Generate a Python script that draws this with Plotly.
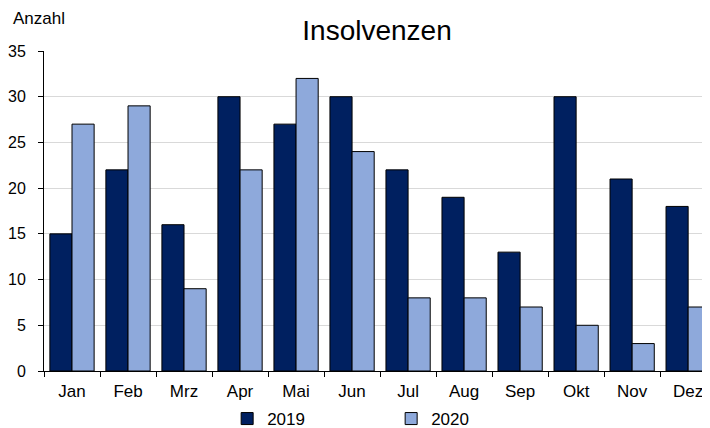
import plotly.graph_objects as go

months = ["Jan", "Feb", "Mrz", "Apr", "Mai", "Jun", "Jul", "Aug", "Sep", "Okt", "Nov", "Dez"]
v2019 = [15, 22, 16, 30, 27, 30, 22, 19, 13, 30, 21, 18]
v2020 = [27, 29, 9, 22, 32, 24, 8, 8, 7, 5, 3, 7]

font = "Liberation Sans, Arial, sans-serif"

fig = go.Figure()
fig.add_trace(go.Bar(x=months, y=v2019, name="2019",
                     marker=dict(color="#002060", line=dict(color="#000000", width=1))))
fig.add_trace(go.Bar(x=months, y=v2020, name="2020",
                     marker=dict(color="#8EA9DB", line=dict(color="#000000", width=1))))

H = 440
fig.update_layout(
    width=702, height=H,
    margin=dict(l=36, r=0, t=43, b=77),
    paper_bgcolor="white", plot_bgcolor="white",
    barmode="group", bargap=0.21, bargroupgap=0,
    font=dict(family=font, size=17, color="#000000"),
    title=dict(text="Insolvenzen", x=0.5, xref="paper", xanchor="center",
               y=1 - 22 / H, yanchor="middle",
               font=dict(family=font, size=28, color="#000000")),
    showlegend=True,
    legend=dict(orientation="h", x=0.275, xanchor="left", y=-0.15, yanchor="middle",
                entrywidth=119, entrywidthmode="pixels", font=dict(size=17),
                itemwidth=30, tracegroupgap=0),
    xaxis=dict(type="category", range=[-0.5, 11.39], showline=True, linecolor="#000000", linewidth=1,
               ticks="outside", tickson="boundaries", ticklen=5, tickcolor="#000000",
               showgrid=False, tickfont=dict(size=17), ticklabelstandoff=5, automargin=False),
    yaxis=dict(range=[0, 35], dtick=5, showline=True, linecolor="#000000", linewidth=1,
               ticks="outside", ticklen=5, tickcolor="#000000",
               showgrid=True, gridcolor="#D9D9D9", gridwidth=1, zeroline=False,
               tickfont=dict(size=16), ticklabelstandoff=9, automargin=False),
    annotations=[dict(text="Anzahl", xref="paper", yref="paper", x=-0.05, y=1.103,
                      xanchor="left", yanchor="middle", showarrow=False,
                      font=dict(family=font, size=17, color="#000000"))],
)

fig.write_html("out.html")
